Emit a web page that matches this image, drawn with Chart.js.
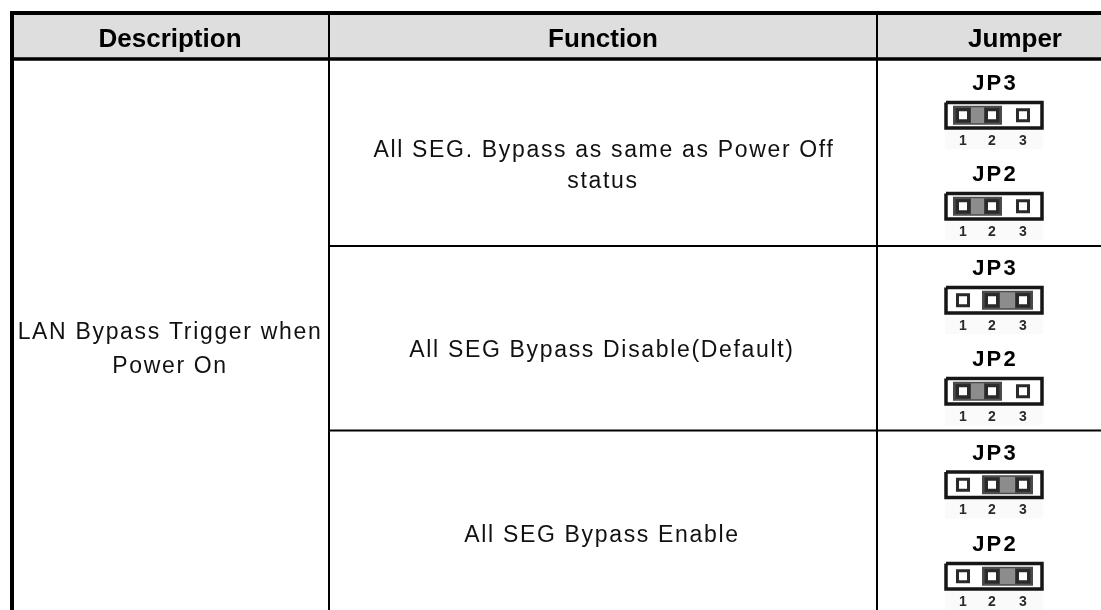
<!DOCTYPE html>
<html>
<head>
<meta charset="utf-8">
<title>LAN Bypass jumper table</title>
<script src="https://cdn.jsdelivr.net/npm/chart.js@4/dist/chart.umd.min.js"></script>
<style>
  html, body { margin: 0; padding: 0; background: #fff; overflow: hidden; }
  canvas { display: block; }
</style>
</head>
<body>
<canvas id="tableChart" width="1101" height="610"></canvas>
<script>
// table content
const headerLabels = ["Description", "Function", "Jumper"];
const descriptionLines = ["LAN Bypass Trigger when", "Power On"];
const functionLines = [
  ["All SEG. Bypass as same as Power Off", "status"],
  ["All SEG Bypass Disable(Default)"],
  ["All SEG Bypass Enable"]
];
const jumperNames = ["JP3", "JP2"];
const pinNumbers = [1, 2, 3];
// which two pins the shunt closes, per row
const jp3Shunts = [[1, 2], [2, 3], [2, 3]];
const jp2Shunts = [[1, 2], [1, 2], [2, 3]];

// layout, in page pixels (the scales below run 0..1101 and 0..610)
const W = 1101, H = 610;
const colRules = [329, 877];
const rowRules = [246, 430.5];
const headerTop = 13, headerBottom = 59;
const headerCenters = [170, 603, 1015];
const headerBase = 46.5;
const descCenters = [170, 170];
const descBase = [339, 373];
const funcCenters = [[604, 603], [602], [602]];
const funcBase = [[157, 188], [357], [542]];
const pinX = [963, 992, 1023];
// top of each jumper housing: [JP3, JP2] per row
const housingTops = [[102.5, 193.5], [287.5, 378.5], [472, 563.5]];
const housingLeft = 946, housingRight = 1042, housingH = 25.5;

const FONT = '"Liberation Sans", Arial, sans-serif';

const datasets = [];

function addLine(points, color, width) {
  datasets.push({
    data: points, showLine: true, borderColor: color, borderWidth: width,
    pointRadius: 0, fill: false, tension: 0, borderCapStyle: "butt", borderJoinStyle: "miter"
  });
}

function addPins(points, radius, fill, border, borderWidth) {
  datasets.push({
    data: points, showLine: false, pointStyle: "rect", pointRadius: radius,
    pointBackgroundColor: fill, pointBorderColor: border, pointBorderWidth: borderWidth
  });
}

function addJumper(top, shunt) {
  const y = top + housingH / 2;
  const a = pinX[shunt[0] - 1], b = pinX[shunt[1] - 1];
  // faint paper patch under the pin numbers
  addLine([{ x: housingLeft - 1, y: top + housingH + 11 }, { x: housingRight + 1, y: top + housingH + 11 }], "#fafafa", 20);
  // housing
  addLine([
    { x: housingLeft, y: top }, { x: housingRight, y: top },
    { x: housingRight, y: top + housingH }, { x: housingLeft, y: top + housingH },
    { x: housingLeft, y: top }
  ], "#161616", 3.5);
  // shunt
  addLine([{ x: a - 10, y: y }, { x: b + 10, y: y }], "#4a4a4a", 19);
  addLine([{ x: a - 8, y: y }, { x: b + 8, y: y }], "#8c8c8c", 16);
  // pins
  addPins([{ x: a, y: y }, { x: b, y: y }], 11.3, "#3f3f3f", "#3f3f3f", 0);
  addPins(pinNumbers.map((n, i) => ({ x: pinX[i], y: y })), 7.8, "#ffffff", "#2a2a2a", 3);
}

// header band and rules
addLine([{ x: 12, y: (headerTop + headerBottom) / 2 }, { x: W, y: (headerTop + headerBottom) / 2 }], "#dedede", headerBottom - headerTop);
addLine([{ x: 10, y: headerTop }, { x: W, y: headerTop }], "#000000", 4);
addLine([{ x: 10, y: headerBottom }, { x: W, y: headerBottom }], "#000000", 3.5);
addLine([{ x: 12, y: 11 }, { x: 12, y: H }], "#000000", 4);
colRules.forEach(x => addLine([{ x: x, y: headerTop }, { x: x, y: H }], "#000000", 2));
rowRules.forEach(y => addLine([{ x: colRules[0], y: y }, { x: W, y: y }], "#000000", 2));

housingTops.forEach((tops, r) => {
  addJumper(tops[0], jp3Shunts[r]);
  addJumper(tops[1], jp2Shunts[r]);
});

const textPlugin = {
  id: "cellText",
  afterDatasetsDraw(chart) {
    const { ctx, scales } = chart;
    const put = (text, x, y, font, spacing, color) => {
      ctx.font = font;
      ctx.letterSpacing = spacing + "px";
      ctx.fillStyle = color;
      ctx.textAlign = "center";
      ctx.textBaseline = "alphabetic";
      ctx.fillText(text, scales.x.getPixelForValue(x), scales.y.getPixelForValue(y));
    };
    ctx.save();
    headerLabels.forEach((t, i) => put(t, headerCenters[i], headerBase, "bold 26px " + FONT, 0, "#000"));
    descriptionLines.forEach((t, i) => put(t, descCenters[i], descBase[i], "23px " + FONT, 1.67, "#111"));
    functionLines.forEach((lines, r) => lines.forEach((t, i) => put(t, funcCenters[r][i], funcBase[r][i], "23px " + FONT, 1.67, "#111")));
    housingTops.forEach(tops => tops.forEach((top, j) => {
      put(jumperNames[j], 995, top - 12.5, "bold 22px " + FONT, 2.2, "#000");
      pinNumbers.forEach((n, i) => put(String(n), pinX[i], top + housingH + 16.5, "bold 14px " + FONT, 0, "#2a2a2a"));
    }));
    ctx.restore();
  }
};

new Chart(document.getElementById("tableChart"), {
  type: "scatter",
  data: { datasets: datasets.reverse() },
  plugins: [textPlugin],
  options: {
    responsive: false,
    animation: false,
    layout: { padding: 0, autoPadding: false },
    plugins: { legend: { display: false }, tooltip: { enabled: false } },
    scales: {
      x: { type: "linear", min: 0, max: W, display: false },
      y: { type: "linear", min: 0, max: H, reverse: true, display: false }
    }
  }
});
</script>
</body>
</html>
